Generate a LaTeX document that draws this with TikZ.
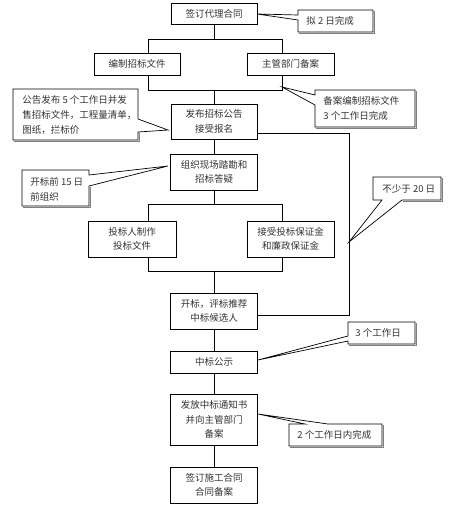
\documentclass[tikz,border=0pt]{standalone}
\usepackage{fontspec}
\setmainfont{Noto Sans CJK SC}
\begin{document}
\begin{tikzpicture}[x=1pt,y=-1pt, line width=0.8pt,
  box/.style={draw, fill=white, inner sep=0pt, align=center,
    font=\fontsize{9.5}{14.5}\selectfont, text=black!80},
  cshape/.style={draw=black, fill=white, line width=0.7pt},
  cshadow/.style={draw=black!50, line width=1.3pt},
  ctext/.style={inner sep=0pt, align=left, anchor=west,
    font=\fontsize{9.5}{15}\selectfont, text=black!80}]
\useasboundingbox (0,0) rectangle (452,512);

% main boxes
\node[box, minimum width=86pt, minimum height=21pt] (n1) at (214,13.5) {签订代理合同};
\node[box, minimum width=86pt, minimum height=22pt] (n2) at (137,64) {编制招标文件};
\node[box, minimum width=87pt, minimum height=22pt] (n3) at (290.5,64) {主管部门备案};
\node[box, minimum width=86pt, minimum height=35pt] (n4) at (214,121.5) {发布招标公告\\接受报名};
\node[box, minimum width=87pt, minimum height=36pt] (n5) at (214,172) {组织现场踏勘和\\招标答疑};
\node[box, minimum width=88pt, minimum height=36pt] (n6) at (132,239) {投标人制作\\投标文件};
\node[box, minimum width=87pt, minimum height=36pt] (n7) at (290.5,239) {接受投标保证金\\和廉政保证金};
\node[box, minimum width=87pt, minimum height=36pt] (n8) at (214,311) {开标，评标推荐\\中标候选人};
\node[box, minimum width=87pt, minimum height=22pt] (n9) at (214,362) {中标公示};
\node[box, minimum width=87pt, minimum height=51pt] (n10) at (214,419.5) {发放中标通知书\\并向主管部门\\备案};
\node[box, minimum width=87pt, minimum height=36pt] (n11) at (214,485) {签订施工合同\\合同备案};

% branch coordinates
\coordinate (t1L) at (148,39);  \coordinate (t1R) at (282,39);
\coordinate (t2L) at (148,90);  \coordinate (t2R) at (282,90);
\coordinate (t3L) at (148,204); \coordinate (t3R) at (282,204);
\coordinate (t4L) at (148,271); \coordinate (t4R) at (282,271);
\coordinate (r1) at (349,133);  \coordinate (r2) at (349,315);

% connectors
\draw (n1.south) -- (n1.south |- t1L);
\draw (n2.north -| t1L) |- (t1R) -- (t1R |- n3.north);
\draw (n2.south -| t2L) |- (t2R) -- (t2R |- n3.south);
\draw (n4.north) -- (n4.north |- t2L);
\draw (n4.south) -- (n5.north);
\draw (n5.south) -- (n5.south |- t3L);
\draw (n6.north -| t3L) |- (t3R) -- (t3R |- n7.north);
\draw (n6.south -| t4L) |- (t4R) -- (t4R |- n7.south);
\draw (n8.north) -- (n8.north |- t4L);
\draw (n8.south) -- (n9.north);
\draw (n9.south) -- (n10.north);
\draw (n10.south) -- (n11.north);
\draw (r1 -| n4.east) -- (r1) -- (r2) -- (r2 -| n8.east);

% callout 1
\draw[cshadow, shift={(1.2,1.2)}] (373,10) -- (373,32) -- (298,32);
\draw[cshape] (298,10) -- (373,10) -- (373,32) -- (298,32) -- (298,20) -- (257,14) -- (298,15) -- cycle;
\node[ctext] (c1) at (306,21) {拟 2 日完成};

% callout 2
\draw[cshadow, shift={(1.2,1.2)}] (415,90) -- (415,127) -- (315,127);
\draw[cshape] (315,90) -- (415,90) -- (415,127) -- (315,127) -- (315,105) -- (282,87) -- (315,95) -- cycle;
\node[ctext] (c2) at (323,108) {备案编制招标文件\\3 个工作日完成};

% callout 3
\draw[cshadow, shift={(1.2,1.2)}] (138,132) -- (138,140) -- (13,140);
\draw[cshape] (13,89) -- (138,89) -- (138,119) -- (168,130) -- (138,132) -- (138,140) -- (13,140) -- cycle;
\node[ctext] (c3) at (22,115) {公告发布 5 个工作日并发\\售招标文件，工程量清单，\\图纸，拦标价};

% callout 4
\draw[cshadow, shift={(1.2,1.2)}] (89,186) -- (89,206) -- (22,206);
\draw[cshape] (22,170) -- (89,170) -- (89,175) -- (168,166) -- (89,186) -- (89,206) -- (22,206) -- cycle;
\node[ctext] (c4) at (30,189) {开标前 15 日\\前组织};

% callout 5
\draw[cshadow, shift={(1.2,1.2)}] (441,177) -- (441,200) -- (402,200);
\draw[cshape] (373,177) -- (441,177) -- (441,200) -- (402,200) -- (349,242) -- (382,200) -- (373,200) -- cycle;
\node[ctext] (c5) at (382,189) {不少于 20 日};

% callout 6
\draw[cshadow, shift={(1.2,1.2)}] (415,322) -- (415,344) -- (348,344);
\draw[cshape] (348,322) -- (415,322) -- (415,344) -- (348,344) -- (348,341) -- (258,360) -- (348,336) -- cycle;
\node[ctext] (c6) at (355,333) {3 个工作日};

% callout 7
\draw[cshadow, shift={(1.2,1.2)}] (382,424) -- (382,446) -- (289,446);
\draw[cshape] (289,424) -- (305,424) -- (258,414) -- (328,424) -- (382,424) -- (382,446) -- (289,446) -- cycle;
\node[ctext] (c7) at (297,435) {2 个工作日内完成};
\end{tikzpicture}
\end{document}
